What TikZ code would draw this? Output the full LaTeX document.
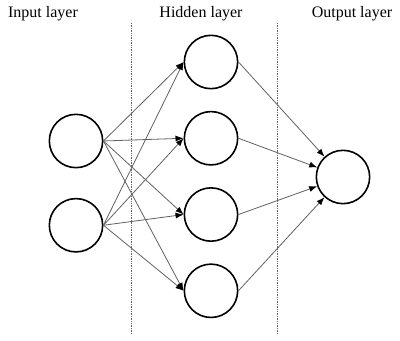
\documentclass[tikz,border=0pt]{standalone}
\usepackage{fontspec}
\setmainfont{Liberation Serif}
\usetikzlibrary{arrows.meta,positioning}

\begin{document}
\begin{tikzpicture}[
    x=0.75pt, y=-0.75pt,
    node distance=16pt,
    neuron/.style={circle, draw, line width=1.2pt, minimum size=40pt, inner sep=0pt},
    arrow/.style={-{Latex[length=6pt,width=4.5pt,color=black]}, draw=black!62, line width=0.6pt},
    layer/.style={font=\fontsize{12}{14}\selectfont},
    sep/.style={draw=black!60, line width=0.6pt, dash pattern=on 1pt off 0.8pt}
]
\useasboundingbox (0,0) rectangle (400,341);

% layer titles
\node[layer] (tin) at (43,14) {Input layer};
\node[layer] (thid) at (201,14) {Hidden layer};
\node[layer] (tout) at (352,14) {Output layer};

% separators
\draw[sep] (131,23) -- (131,333);
\draw[sep] (277,23) -- (277,333);

% neurons
\node[neuron] (i1) at (76,141) {};
\node[neuron, below=22pt of i1] (i2) {};
\node[neuron] (h1) at (211,62) {};
\node[neuron, below=of h1] (h2) {};
\node[neuron, below=of h2] (h3) {};
\node[neuron, below=of h3] (h4) {};
\node[neuron] (o) at (343,177) {};

% connections
\foreach \i in {i1,i2}
  \foreach \h in {h1,h2,h3,h4}
    \draw[arrow] (\i.east) -- (\h.west);
\foreach \h in {h1,h2,h3,h4}
  \draw[arrow] (\h.east) -- (o);
\end{tikzpicture}
\end{document}
